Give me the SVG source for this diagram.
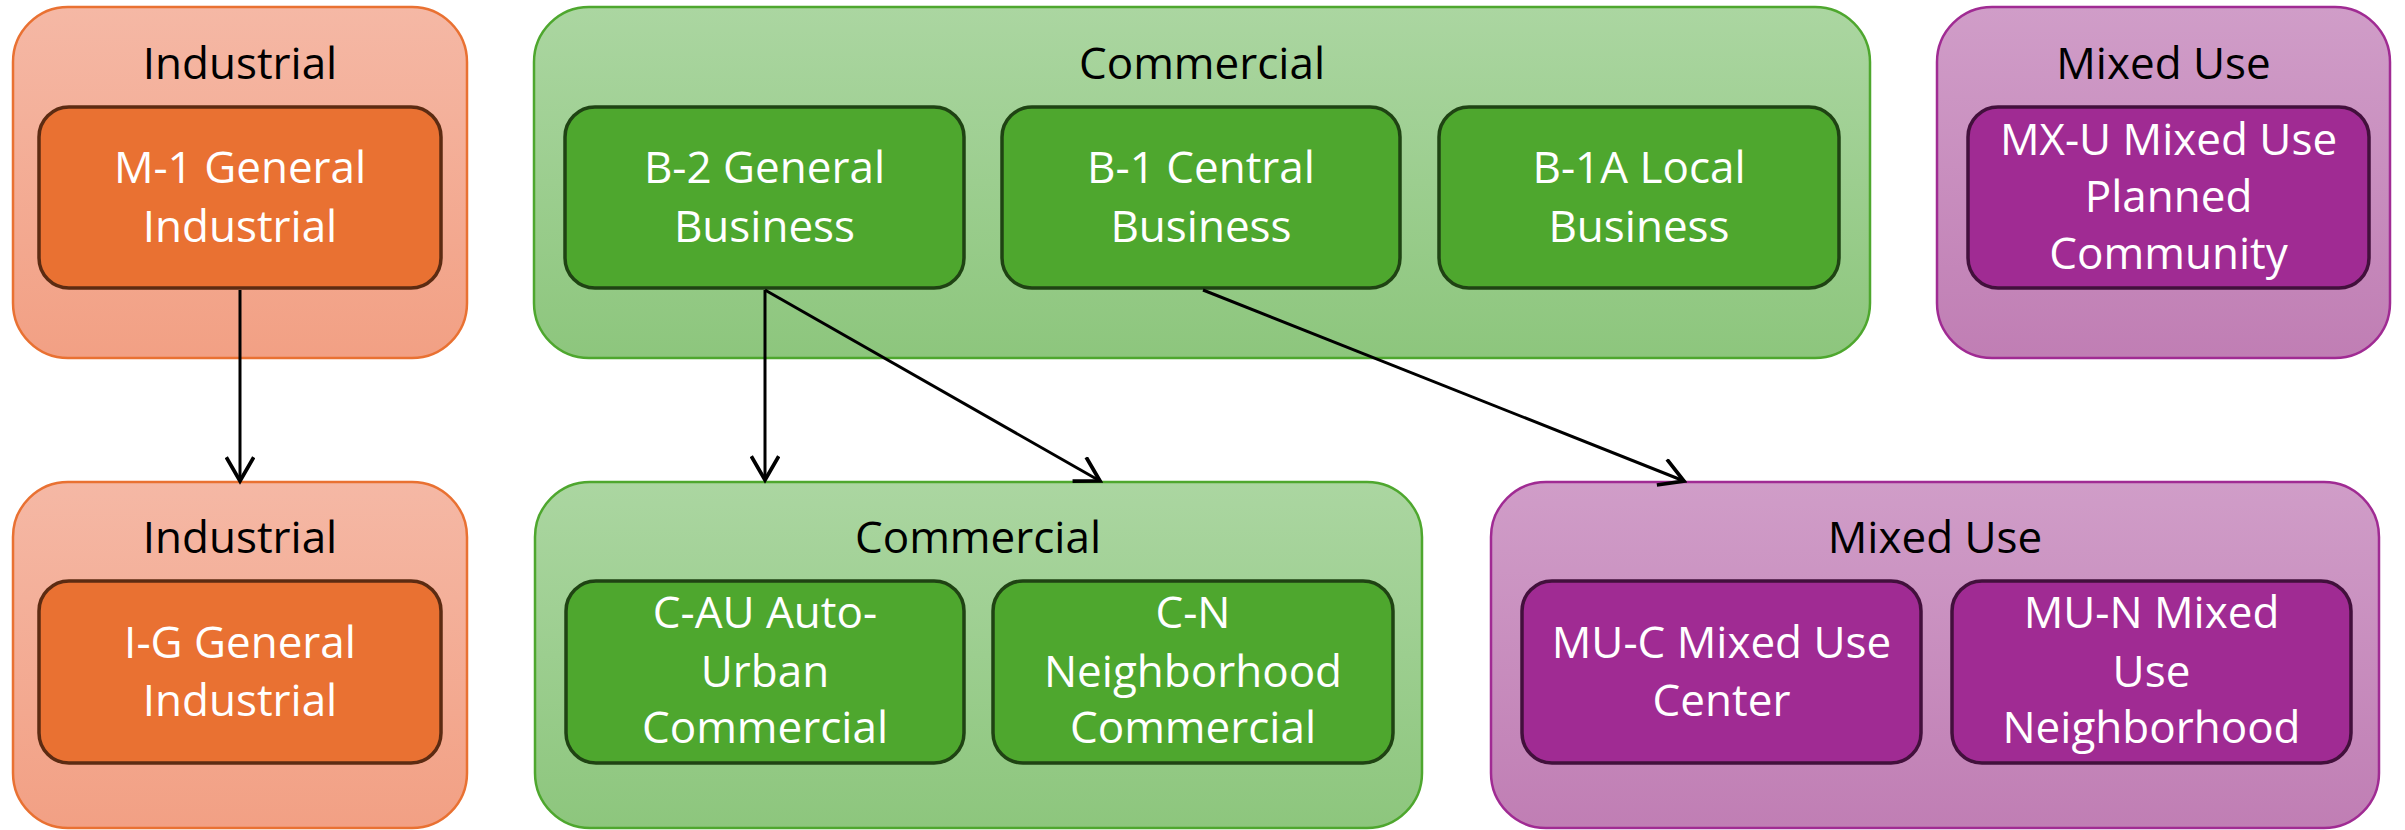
<svg xmlns="http://www.w3.org/2000/svg" width="2405" height="830" viewBox="0 0 2405 830">
<style>
text{font-family:"Open Sans","Noto Sans","Liberation Sans",sans-serif;font-size:44px;text-anchor:middle}
.t{fill:#000}
.w{fill:#fff}
.oi{fill:url(#gi);stroke:#E97132;stroke-width:2.5}
.oc{fill:url(#gc);stroke:#4EA72E;stroke-width:2.5}
.om{fill:url(#gm);stroke:#A02B93;stroke-width:2.5}
.ii{fill:#E97132;stroke:#5C2B12;stroke-width:3.5}
.ic{fill:#4EA72E;stroke:#1F4313;stroke-width:3.5}
.im{fill:#A02B93;stroke:#42103C;stroke-width:3.5}
.c{fill:none;stroke:#000;stroke-width:3;marker-end:url(#a)}
</style>
<defs>
<linearGradient id="gi" x1="0" y1="0" x2="0" y2="1"><stop offset="0" stop-color="#F5B8A5"/><stop offset="1" stop-color="#F2A084"/></linearGradient>
<linearGradient id="gc" x1="0" y1="0" x2="0" y2="1"><stop offset="0" stop-color="#ABD6A1"/><stop offset="1" stop-color="#8DC67D"/></linearGradient>
<linearGradient id="gm" x1="0" y1="0" x2="0" y2="1"><stop offset="0" stop-color="#D09DC8"/><stop offset="1" stop-color="#C07EB4"/></linearGradient>
<marker id="a" markerUnits="userSpaceOnUse" markerWidth="30" markerHeight="30" viewBox="0 0 24 24" refX="21" refY="12" orient="auto"><path d="M2,1 L21,12 L2,23" fill="none" stroke="#000" stroke-width="3"/></marker>
</defs>
<g id="industrial-top">
<rect class="oi" x="13" y="7" width="454" height="351" rx="55"/>
<text class="t" x="240" y="79">Industrial</text>
<g id="m1"><rect class="ii" x="39" y="107" width="402" height="181" rx="30"/>
<text class="w" x="240" y="183">M-1 General</text><text class="w" x="240" y="242">Industrial</text></g>
</g>
<g id="commercial-top">
<rect class="oc" x="534" y="7" width="1336" height="351" rx="55"/>
<text class="t" x="1202" y="79">Commercial</text>
<g id="b2"><rect class="ic" x="565" y="107" width="399" height="181" rx="30"/>
<text class="w" x="764.5" y="183">B-2 General</text><text class="w" x="764.5" y="242">Business</text></g>
<g id="b1"><rect class="ic" x="1002" y="107" width="398" height="181" rx="30"/>
<text class="w" x="1201" y="183">B-1 Central</text><text class="w" x="1201" y="242">Business</text></g>
<g id="b1a"><rect class="ic" x="1439" y="107" width="400" height="181" rx="30"/>
<text class="w" x="1639" y="183">B-1A Local</text><text class="w" x="1639" y="242">Business</text></g>
</g>
<g id="mixed-top">
<rect class="om" x="1937" y="7" width="453" height="351" rx="55"/>
<text class="t" x="2163.5" y="79">Mixed Use</text>
<g id="mxu"><rect class="im" x="1968" y="107" width="401" height="181" rx="30"/>
<text class="w" x="2168.5" y="155">MX-U Mixed Use</text><text class="w" x="2168.5" y="212">Planned</text><text class="w" x="2168.5" y="269">Community</text></g>
</g>
<g id="industrial-bottom">
<rect class="oi" x="13" y="482" width="454" height="346" rx="55"/>
<text class="t" x="240" y="553">Industrial</text>
<g id="ig"><rect class="ii" x="39" y="581" width="402" height="182" rx="30"/>
<text class="w" x="240" y="658">I-G General</text><text class="w" x="240" y="716">Industrial</text></g>
</g>
<g id="commercial-bottom">
<rect class="oc" x="535" y="482" width="887" height="346" rx="55"/>
<text class="t" x="978" y="553">Commercial</text>
<g id="cau"><rect class="ic" x="566" y="581" width="398" height="182" rx="30"/>
<text class="w" x="765" y="628">C-AU Auto-</text><text class="w" x="765" y="687">Urban</text><text class="w" x="765" y="743">Commercial</text></g>
<g id="cn"><rect class="ic" x="993" y="581" width="400" height="182" rx="30"/>
<text class="w" x="1193" y="628">C-N</text><text class="w" x="1193" y="687">Neighborhood</text><text class="w" x="1193" y="743">Commercial</text></g>
</g>
<g id="mixed-bottom">
<rect class="om" x="1491" y="482" width="888" height="346" rx="55"/>
<text class="t" x="1935" y="553">Mixed Use</text>
<g id="muc"><rect class="im" x="1522" y="581" width="399" height="182" rx="30"/>
<text class="w" x="1721.5" y="658">MU-C Mixed Use</text><text class="w" x="1721.5" y="716">Center</text></g>
<g id="mun"><rect class="im" x="1952" y="581" width="399" height="182" rx="30"/>
<text class="w" x="2151.5" y="628">MU-N Mixed</text><text class="w" x="2151.5" y="687">Use</text><text class="w" x="2151.5" y="743">Neighborhood</text></g>
</g>
<g id="connectors">
<path class="c" d="M240,290 L240,481"/>
<path class="c" d="M765,290 L765,480"/>
<path class="c" d="M765,290 L1100,481"/>
<path class="c" d="M1203,290 L1684,481"/>
</g>
</svg>
